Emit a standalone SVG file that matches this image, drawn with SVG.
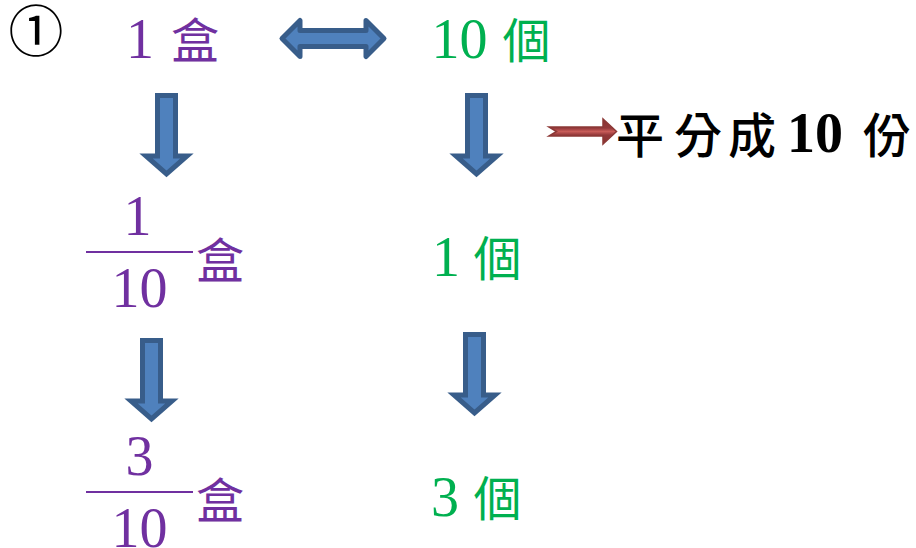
<svg xmlns="http://www.w3.org/2000/svg" xmlns:xlink="http://www.w3.org/1999/xlink" width="916" height="548" viewBox="0 0 916 548">
<style>
.num{font-family:"Liberation Serif","DejaVu Serif","Noto Serif",serif;font-size:56px;text-anchor:middle}
.cjk{font-family:"Noto Sans CJK TC","Noto Sans CJK SC",sans-serif;font-size:48px;text-anchor:middle}
.pur{fill:#7030A0}
.grn{fill:#00B050}
.blk{fill:#000000}
.med{font-weight:500}
.frac{stroke:#7030A0;stroke-width:2}
.blue{fill:#4F81BD;stroke:#385D8A;stroke-width:5}
</style>
<defs>
<path id="downArrow" class="blue" stroke-linejoin="miter" d="M14.5,2.5 H32.5 V63 H44 L23.5,81 L3,63 H14.5 Z"/>
<linearGradient id="redGrad" x1="0" y1="0" x2="0" y2="1">
<stop offset="0" stop-color="#8A3331"/>
<stop offset="0.36" stop-color="#93383A"/>
<stop offset="0.5" stop-color="#C85C58"/>
<stop offset="0.64" stop-color="#93383A"/>
<stop offset="1" stop-color="#8A3331"/>
</linearGradient>
</defs>
<rect width="916" height="548" fill="#FFFFFF"/>

<g id="node-circled1">
<text class="cjk blk" style="font-size:55px" x="36" y="51">①</text>
</g>
<g id="node-1box">
<text class="num pur" x="140" y="58">1</text>
<text class="cjk pur" x="195" y="58">盒</text>
</g>
<g id="node-10pieces">
<text class="num grn" x="459.5" y="58">10</text>
<text class="cjk grn" x="526.5" y="58">個</text>
</g>
<g id="node-label">
<text class="cjk blk med" x="640" y="153">平</text>
<text class="cjk blk med" x="698" y="153">分</text>
<text class="cjk blk med" x="752" y="153">成</text>
<text class="num blk" style="font-weight:700" x="815" y="152">10</text>
<text class="cjk blk med" x="887" y="153">份</text>
</g>
<g id="node-frac1">
<text class="num pur" x="137.5" y="235">1</text>
<line class="frac" x1="86" y1="252" x2="193" y2="252"/>
<text class="num pur" x="139.5" y="307">10</text>
<text class="cjk pur" x="220" y="278">盒</text>
</g>
<g id="node-1piece">
<text class="num grn" x="446" y="276">1</text>
<text class="cjk grn" x="497.5" y="276">個</text>
</g>
<g id="node-frac3">
<text class="num pur" x="139.5" y="475">3</text>
<line class="frac" x1="86" y1="492" x2="193" y2="492"/>
<text class="num pur" x="139.5" y="547">10</text>
<text class="cjk pur" x="220" y="518">盒</text>
</g>
<g id="node-3pieces">
<text class="num grn" x="445" y="516">3</text>
<text class="cjk grn" x="497.5" y="516">個</text>
</g>

<g id="connectors">
<path id="doubleArrow" class="blue" stroke-linejoin="round" d="M282,38.5 L300,20.5 V30.5 H366 V20.5 L384,38.5 L366,56.5 V46.5 H300 V56.5 Z"/>
<use xlink:href="#downArrow" href="#downArrow" x="143" y="93"/>
<use xlink:href="#downArrow" href="#downArrow" x="453" y="93"/>
<use xlink:href="#downArrow" href="#downArrow" x="128" y="338"/>
<use xlink:href="#downArrow" href="#downArrow" x="451" y="332"/>
<path id="redArrow" fill="url(#redGrad)" stroke="#8C3836" stroke-width="1.5" stroke-linejoin="miter" d="M549,127 H603 V119 L616.5,131.5 L603,144 V136 H549 L556.5,131.5 Z"/>
</g>
</svg>
